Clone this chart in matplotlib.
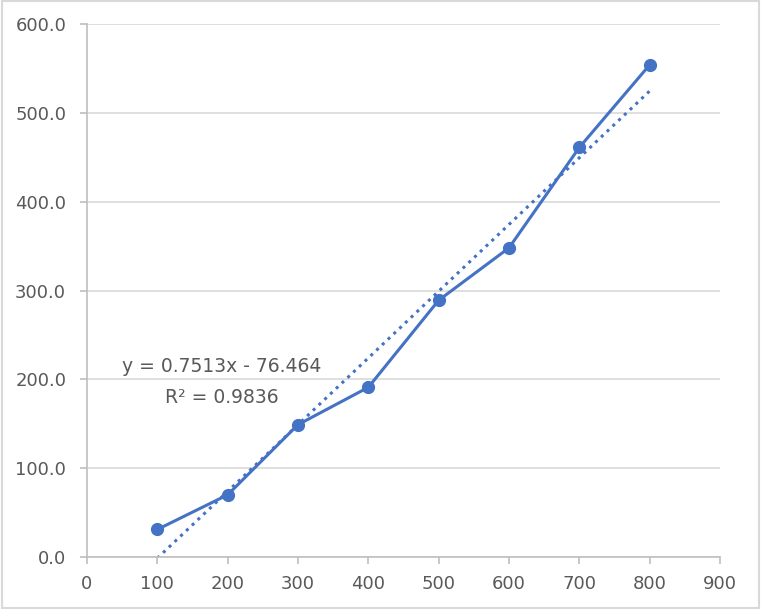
import numpy as np
import matplotlib.pyplot as plt
from matplotlib.patches import Rectangle
from matplotlib.ticker import FormatStrFormatter

# data
x_vals = [100, 200, 300, 400, 500, 600, 700, 800]
y_vals = [31, 70, 149, 191, 289, 348, 461, 554]
slope = 0.7513
intercept = -76.464
eq_label = "y = 0.7513x - 76.464\nR² = 0.9836"

blue = '#4472C4'
grey_txt = '#595959'

fig = plt.figure(figsize=(7.61, 6.09), dpi=100)
ax = fig.add_axes([87/761, 1-557/609, (720-87)/761, (557-24)/609])

# trendline (dotted) over the data range
xt = np.array([min(x_vals), max(x_vals)])
ax.plot(xt, slope*xt + intercept, linestyle=(0, (1, 1.6)), color=blue, lw=2.2, zorder=2)
ax.plot(x_vals, y_vals, '-o', color=blue, lw=2.2, markersize=8.5, zorder=3)

ax.set_xlim(0, 900)
ax.set_ylim(0, 600)
ax.set_xticks(np.arange(0, 901, 100))
ax.set_yticks(np.arange(0, 601, 100))
ax.yaxis.set_major_formatter(FormatStrFormatter('%.1f'))
ax.yaxis.grid(True, color='#d9d9d9', lw=1.2)
ax.set_axisbelow(True)

for s in ['top', 'right']:
    ax.spines[s].set_visible(False)
for s in ['left', 'bottom']:
    ax.spines[s].set_color('#bfbfbf')
    ax.spines[s].set_linewidth(1.2)
ax.tick_params(colors='#bfbfbf', labelcolor=grey_txt, labelsize=13, length=5, width=1.2)
ax.tick_params(axis='y', pad=10)
ax.tick_params(axis='x', pad=8)

ax.text(192, 197, eq_label, ha='center', va='center', fontsize=13.5,
        color=grey_txt, linespacing=1.75)

# chart border
fig.patches.append(Rectangle((0.002, 0.002), 0.996, 0.996, transform=fig.transFigure,
                             fill=False, edgecolor='#d9d9d9', lw=1.5))

plt.savefig('out.png', dpi=100)
